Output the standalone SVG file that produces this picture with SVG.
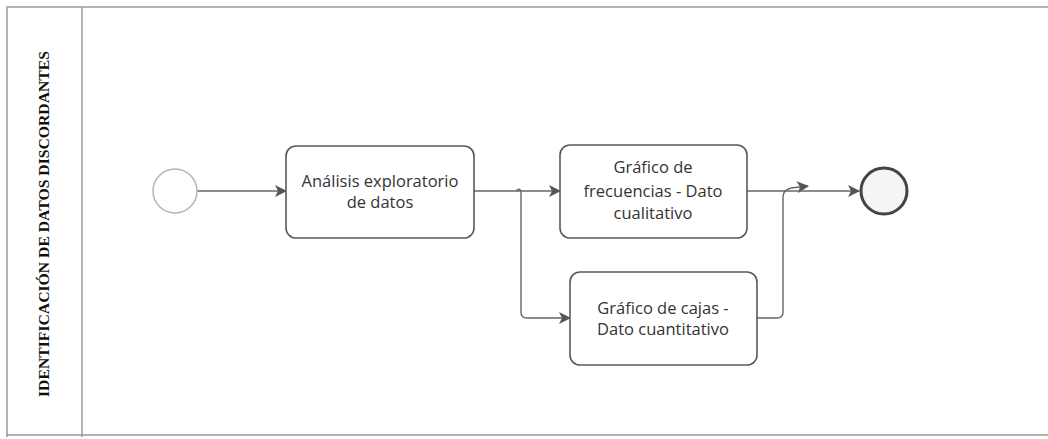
<svg xmlns="http://www.w3.org/2000/svg" width="1048" height="439" viewBox="0 0 1048 439">
<style>
.pool{fill:none;stroke:#9a9a9a;stroke-width:1.5}
.task rect{fill:#ffffff;stroke:#5a5a5a;stroke-width:1.6}
.task text{font-family:"Open Sans","DejaVu Sans",sans-serif;font-size:16.5px;fill:#333;text-anchor:middle}
.conn path{fill:none;stroke:#666;stroke-width:1.4}
.lane{font-family:"Liberation Serif","Times New Roman",serif;font-weight:bold;font-size:15.5px;fill:#111;text-anchor:middle}
</style>
<defs>
<marker id="arr" viewBox="0 0 12 12" refX="11" refY="6" markerWidth="12" markerHeight="12" markerUnits="userSpaceOnUse" orient="auto">
<path d="M0,0 L12,6 L0,12 L3,6 Z" fill="#555"/>
</marker>
</defs>
<rect width="1048" height="439" fill="#ffffff"/>
<g id="pool">
<path class="pool" d="M1048,7 H7 V437"/>
<path class="pool" d="M7,435 H1048"/>
<path class="pool" d="M82,7 V437"/>
<text class="lane" transform="translate(49,224) rotate(-90)" textLength="346" lengthAdjust="spacingAndGlyphs">IDENTIFICACIÓN DE DATOS DISCORDANTES</text>
</g>
<g class="conn" id="connectors">
<path d="M197,191 H286" marker-end="url(#arr)"/>
<path d="M474,191 H560" marker-end="url(#arr)"/>
<path d="M516,191 q4,-4 5,1 V312 q0,6 6,6 H570" marker-end="url(#arr)"/>
<path d="M757,318 H777 q6,0 6,-6 V197 q0,-7 8,-9 L808,186" marker-end="url(#arr)"/>
<path d="M747,191 H859" marker-end="url(#arr)"/>
</g>
<g id="start">
<circle cx="175" cy="191" r="22" fill="#ffffff" stroke="#b5b5b5" stroke-width="1.5"/>
</g>
<g id="task1" class="task">
<rect x="286" y="146" width="188" height="92" rx="10"/>
<text x="380" y="187">Análisis exploratorio</text>
<text x="380" y="208">de datos</text>
</g>
<g id="task2" class="task">
<rect x="560" y="145" width="187" height="93" rx="10"/>
<text x="653" y="173">Gráfico de</text>
<text x="653" y="197">frecuencias - Dato</text>
<text x="653" y="219">cualitativo</text>
</g>
<g id="task3" class="task">
<rect x="570" y="272" width="187" height="93" rx="10"/>
<text x="663" y="314">Gráfico de cajas -</text>
<text x="663" y="335">Dato cuantitativo</text>
</g>
<g id="end">
<circle cx="884" cy="191" r="23" fill="#f5f5f5" stroke="#444" stroke-width="3"/>
</g>
</svg>
